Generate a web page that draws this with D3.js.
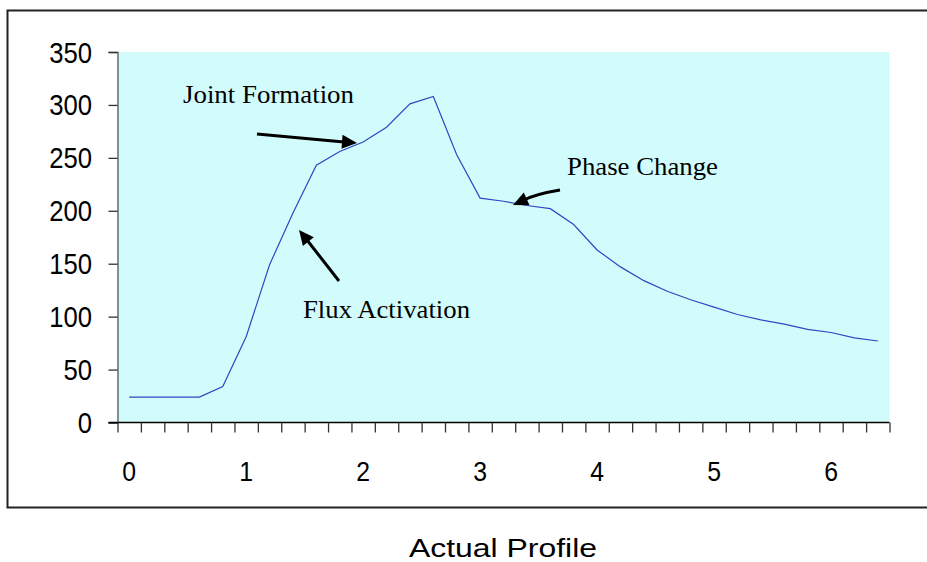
<!DOCTYPE html>
<html>
<head>
<meta charset="utf-8">
<script src="https://cdn.jsdelivr.net/npm/d3@7"></script>
<style>
  html, body { margin: 0; padding: 0; background: #fff; }
  svg { display: block; }
</style>
</head>
<body>
<svg id="chart" width="927" height="562"></svg>
<script>
// Time (x) categories, 0 to 6.4 in steps of 0.2
const times = [0, 0.2, 0.4, 0.6, 0.8, 1.0, 1.2, 1.4, 1.6, 1.8, 2.0, 2.2, 2.4, 2.6, 2.8, 3.0,
               3.2, 3.4, 3.6, 3.8, 4.0, 4.2, 4.4, 4.6, 4.8, 5.0, 5.2, 5.4, 5.6, 5.8, 6.0, 6.2, 6.4];
// Temperature readings for each time step
const temps = [24, 24, 24, 24, 34, 81, 149, 198, 243, 256, 265, 279, 301, 308, 253, 212,
               209, 205, 202, 187, 163, 147, 134, 124, 116, 109, 102, 97, 93, 88, 85, 80, 77];
const xTickLabels = [0, 1, 2, 3, 4, 5, 6];
const yTickLabels = [0, 50, 100, 150, 200, 250, 300, 350];
const title = "Actual Profile";
// Callouts: text, text position and width, arrow shaft path and head direction
const notes = [
  { text: "Joint Formation", tx: 183, ty: 103, w: 171, path: "M257,134 L344,142", tip: [357, 143], from: [344, 142] },
  { text: "Flux Activation", tx: 303, ty: 318, w: 167, path: "M339,281 L307,240", tip: [299, 230], from: [307, 240] },
  { text: "Phase Change",    tx: 567, ty: 175, w: 151, path: "M560,190 Q536,194 524,200", tip: [513, 205], from: [524, 200] }
];

const svg = d3.select("#chart");
const plot = { left: 117.5, right: 889.5, top: 52, bottom: 422.5 };
const sans = "Liberation Sans, Arial, sans-serif";

// Outer chart frame (runs off the right edge)
svg.append("rect")
  .attr("x", 7.5).attr("y", 10.5)
  .attr("width", 940).attr("height", 497)
  .attr("fill", "none").attr("stroke", "#222").attr("stroke-width", 2);

// Plot background
svg.append("rect")
  .attr("x", plot.left).attr("y", plot.top)
  .attr("width", plot.right - plot.left).attr("height", plot.bottom - plot.top)
  .attr("fill", "#d2fcfc");

// Categories sit in the middle of 0.2-wide bands
const x = d3.scaleLinear().domain([-0.1, 6.5]).range([plot.left, plot.right]);
const y = d3.scaleLinear().domain([0, 350]).range([plot.bottom, plot.top]);

// Y axis
const yAxis = d3.axisLeft(y).tickValues(yTickLabels).tickSize(9).tickFormat(() => "");
const gy = svg.append("g").attr("transform", `translate(${plot.left},0)`).call(yAxis);
gy.select(".domain").attr("stroke", "#555").attr("stroke-width", 1.3);
gy.selectAll(".tick line").attr("stroke", "#333").attr("stroke-width", 1.3);
svg.append("g").selectAll("text").data(yTickLabels).join("text")
  .attr("transform", d => `translate(92,${y(d) + 10.5}) scale(0.87,1)`)
  .attr("text-anchor", "end")
  .attr("font-family", sans)
  .attr("font-size", 29.5)
  .attr("fill", "#000")
  .text(d => d);

// X axis: tick marks on band boundaries, labels on whole numbers
const bounds = d3.range(times.length + 1).map(i => -0.1 + 0.2 * i);
const xAxis = d3.axisBottom(x).tickValues(bounds).tickSize(10).tickFormat(() => "");
const gx = svg.append("g").attr("transform", `translate(0,${plot.bottom})`).call(xAxis);
gx.select(".domain").attr("stroke", "#000").attr("stroke-width", 1.3).attr("d", `M${plot.left - 9},0H${plot.right}`);
gx.selectAll(".tick line").attr("stroke", "#333").attr("stroke-width", 1.3);
svg.append("g").selectAll("text").data(xTickLabels).join("text")
  .attr("transform", d => `translate(${x(d)},481) scale(0.87,1)`)
  .attr("text-anchor", "middle")
  .attr("font-family", sans)
  .attr("font-size", 28.5)
  .attr("fill", "#000")
  .text(d => d);

// Temperature curve
const line = d3.line().x((d, i) => x(times[i])).y(d => y(d));
svg.append("path")
  .datum(temps)
  .attr("d", line)
  .attr("fill", "none")
  .attr("stroke", "#3344c4")
  .attr("stroke-width", 1.2);

// Callout arrows and labels
const g = svg.append("g");
notes.forEach(n => {
  g.append("path").attr("d", n.path).attr("fill", "none")
    .attr("stroke", "#000").attr("stroke-width", 3);
  const [tx, ty] = n.tip, [fx, fy] = n.from;
  const ang = Math.atan2(ty - fy, tx - fx);
  const len = 15, half = 7;
  const bx = tx - len * Math.cos(ang), by = ty - len * Math.sin(ang);
  const px = -Math.sin(ang) * half, py = Math.cos(ang) * half;
  g.append("path")
    .attr("d", `M${tx},${ty}L${bx + px},${by + py}L${bx - px},${by - py}Z`)
    .attr("fill", "#000");
  g.append("text")
    .attr("x", n.tx).attr("y", n.ty)
    .attr("font-family", "Liberation Serif, Times New Roman, serif")
    .attr("font-size", 25)
    .attr("textLength", n.w)
    .attr("lengthAdjust", "spacingAndGlyphs")
    .attr("fill", "#000")
    .text(n.text);
});

// Chart title below the frame
svg.append("text")
  .attr("x", 409).attr("y", 557)
  .attr("font-family", sans)
  .attr("font-size", 26)
  .attr("textLength", 188)
  .attr("lengthAdjust", "spacingAndGlyphs")
  .attr("fill", "#000")
  .text(title);
</script>
</body>
</html>
